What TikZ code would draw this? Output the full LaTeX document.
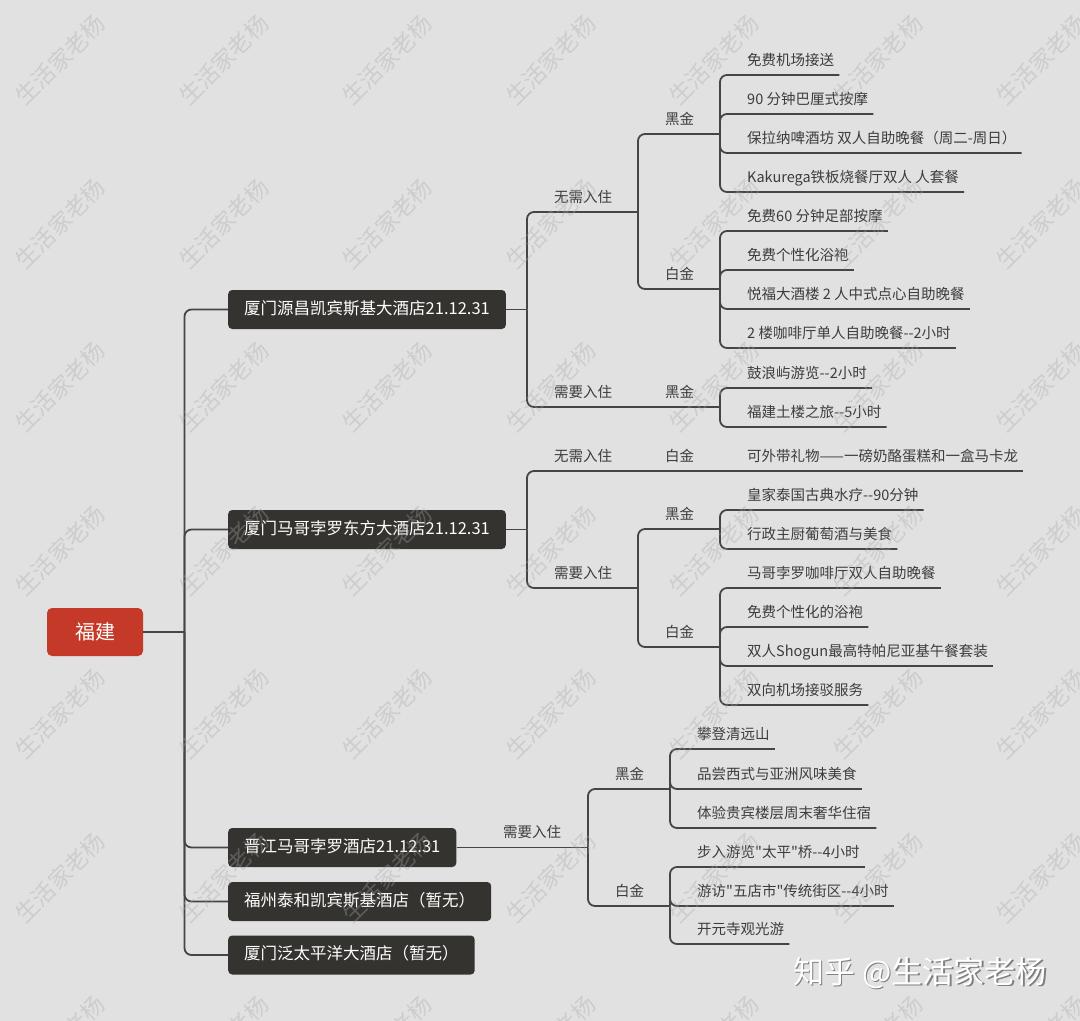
\documentclass[tikz,border=0pt]{standalone}
\usepackage{fontspec}
\newfontfamily\cjk{Noto Sans CJK SC}
\definecolor{bg}{HTML}{E1E1E1}
\definecolor{ln}{HTML}{454545}
\definecolor{tx}{HTML}{3C3C3C}
\definecolor{boxc}{HTML}{34332F}
\definecolor{rootc}{HTML}{C43928}
\definecolor{wm}{HTML}{A8A8A8}
\begin{document}
\begin{tikzpicture}[x=1pt,y=-1pt,
  conn/.style={draw=ln,line width=1.8pt,rounded corners=7pt},
  lab/.style={anchor=south west,inner xsep=5pt,inner ysep=6.5pt,text height=11pt,text depth=3pt,font=\cjk\fontsize{14.5}{15}\selectfont,text=tx},
  hotel/.style={anchor=west,fill=boxc,rounded corners=4pt,text=white,font=\cjk\fontsize{16.5}{17}\selectfont,inner xsep=16pt,minimum height=39pt,text height=12pt,text depth=3pt},
  rootbox/.style={fill=rootc,rounded corners=5pt,text=white,font=\cjk\fontsize{20}{21}\selectfont,minimum width=96pt,minimum height=48pt},
  wmark/.style={rotate=45,text=wm,text opacity=0.35,font=\cjk\fontsize{23}{23}\selectfont}]
\path[fill=bg,use as bounding box] (0,0) rectangle (1080,1021);

% root and trunk
\node[rootbox] (root) at (95,632) {福建};
\coordinate (jr) at (184.5,632);
\node[hotel] (h1) at (228,309.5) {厦门源昌凯宾斯基大酒店21.12.31};
\node[hotel] (h2) at (228,529.5) {厦门马哥孛罗东方大酒店21.12.31};
\node[hotel] (h3) at (228,847.5) {晋江马哥孛罗酒店21.12.31};
\node[hotel] (h4) at (228,901.5) {福州泰和凯宾斯基酒店（暂无）};
\node[hotel] (h5) at (228,955) {厦门泛太平洋大酒店（暂无）};
\draw[conn] (root.east) -- (jr);
\foreach \h in {h1,h2,h3,h4,h5} \draw[conn] (jr) |- (\h.west);

% ---------- hotel 1 ----------
\coordinate (jh1) at (527,309.5);
\draw[conn] (h1.east) -- (jh1);
\node[lab] (h1a) at (549,212) {无需入住};
\coordinate (jh1a) at (638,212);
\draw[conn] (jh1) |- (h1a.south west) -- (jh1a);
\node[lab] (h1aa) at (660,134) {黑金};
\coordinate (jh1aa) at (720,134);
\draw[conn] (jh1a) |- (h1aa.south west) -- (jh1aa);
\node[lab] (l1) at (742,75) {免费机场接送};
\node[lab] (l2) at (742,114) {90 分钟巴厘式按摩};
\node[lab] (l3) at (742,153) {保拉纳啤酒坊 双人自助晚餐（周二-周日）};
\node[lab] (l4) at (742,192) {Kakurega铁板烧餐厅双人 人套餐};
\foreach \n in {l1,l2,l3,l4} \draw[conn] (jh1aa) |- (\n.south west) -- (\n.south east);
\node[lab] (h1ab) at (660,289) {白金};
\coordinate (jh1ab) at (720,289);
\draw[conn] (jh1a) |- (h1ab.south west) -- (jh1ab);
\node[lab] (l5) at (742,231) {免费60 分钟足部按摩};
\node[lab] (l6) at (742,270) {免费个性化浴袍};
\node[lab] (l7) at (742,309) {悦福大酒楼 2 人中式点心自助晚餐};
\node[lab] (l8) at (742,348) {2 楼咖啡厅单人自助晚餐-{}-2小时};
\foreach \n in {l5,l6,l7,l8} \draw[conn] (jh1ab) |- (\n.south west) -- (\n.south east);
\node[lab] (h1b) at (549,407) {需要入住};
\coordinate (jh1b) at (638,407);
\draw[conn] (jh1) |- (h1b.south west) -- (jh1b);
\node[lab] (h1ba) at (660,407) {黑金};
\coordinate (jh1ba) at (720,407);
\draw[conn] (jh1b) -- (h1ba.south west) -- (jh1ba);
\node[lab] (l9) at (742,388) {鼓浪屿游览-{}-2小时};
\node[lab] (l10) at (742,427) {福建土楼之旅-{}-5小时};
\foreach \n in {l9,l10} \draw[conn] (jh1ba) |- (\n.south west) -- (\n.south east);

% ---------- hotel 2 ----------
\coordinate (jh2) at (527,529.5);
\draw[conn] (h2.east) -- (jh2);
\node[lab] (h2a) at (549,471) {无需入住};
\coordinate (jh2a) at (638,471);
\draw[conn] (jh2) |- (h2a.south west) -- (jh2a);
\node[lab] (h2aa) at (660,471) {白金};
\coordinate (jh2aa) at (720,471);
\draw[conn] (jh2a) -- (h2aa.south west) -- (jh2aa);
\node[lab] (l11) at (742,471) {可外带礼物——一磅奶酪蛋糕和一盒马卡龙};
\draw[conn] (jh2aa) -- (l11.south west) -- (l11.south east);
\node[lab] (h2b) at (549,588) {需要入住};
\coordinate (jh2b) at (638,588);
\draw[conn] (jh2) |- (h2b.south west) -- (jh2b);
\node[lab] (h2ba) at (660,529) {黑金};
\coordinate (jh2ba) at (720,529);
\draw[conn] (jh2b) |- (h2ba.south west) -- (jh2ba);
\node[lab] (l12) at (742,510) {皇家泰国古典水疗-{}-90分钟};
\node[lab] (l13) at (742,549) {行政主厨葡萄酒与美食};
\foreach \n in {l12,l13} \draw[conn] (jh2ba) |- (\n.south west) -- (\n.south east);
\node[lab] (h2bb) at (660,647) {白金};
\coordinate (jh2bb) at (720,647);
\draw[conn] (jh2b) |- (h2bb.south west) -- (jh2bb);
\node[lab] (l14) at (742,588) {马哥孛罗咖啡厅双人自助晚餐};
\node[lab] (l15) at (742,627) {免费个性化的浴袍};
\node[lab] (l16) at (742,666) {双人Shogun最高特帕尼亚基午餐套装};
\node[lab] (l17) at (742,705) {双向机场接驳服务};
\foreach \n in {l14,l15,l16,l17} \draw[conn] (jh2bb) |- (\n.south west) -- (\n.south east);

% ---------- hotel 3 ----------
\node[lab] (h3a) at (498,847.5) {需要入住};
\coordinate (jh3a) at (588,847.5);
\draw[conn] (h3.east) -- (h3a.south west) -- (jh3a);
\node[lab] (h3aa) at (610,789) {黑金};
\coordinate (jh3aa) at (670,789);
\draw[conn] (jh3a) |- (h3aa.south west) -- (jh3aa);
\node[lab] (l18) at (692,749) {攀登清远山};
\node[lab] (l19) at (692,789) {品尝西式与亚洲风味美食};
\node[lab] (l20) at (692,828) {体验贵宾楼层周末奢华住宿};
\foreach \n in {l18,l19,l20} \draw[conn] (jh3aa) |- (\n.south west) -- (\n.south east);
\node[lab] (h3ab) at (610,906) {白金};
\coordinate (jh3ab) at (670,906);
\draw[conn] (jh3a) |- (h3ab.south west) -- (jh3ab);
\node[lab] (l21) at (692,867) {步入游览"太平"桥-{}-4小时};
\node[lab] (l22) at (692,906) {游访"五店市"传统街区-{}-4小时};
\node[lab] (l23) at (692,944) {开元寺观光游};
\foreach \n in {l21,l22,l23} \draw[conn] (jh3ab) |- (\n.south west) -- (\n.south east);

% ---------- watermarks ----------
\foreach \i in {0,...,6} \foreach \j in {0,...,6}
  \node[wmark] (wm\i\j) at ({60+163.5*\i},{60+163.5*\j}) {生活家老杨};
\node[font=\cjk\fontsize{31}{32}\selectfont,text=black!50] (zhs) at (921.5,974.5) {知乎 @生活家老杨};
\node[font=\cjk\fontsize{31}{32}\selectfont,text=white] (zh) at (920,973) {知乎 @生活家老杨};
\end{tikzpicture}
\end{document}
